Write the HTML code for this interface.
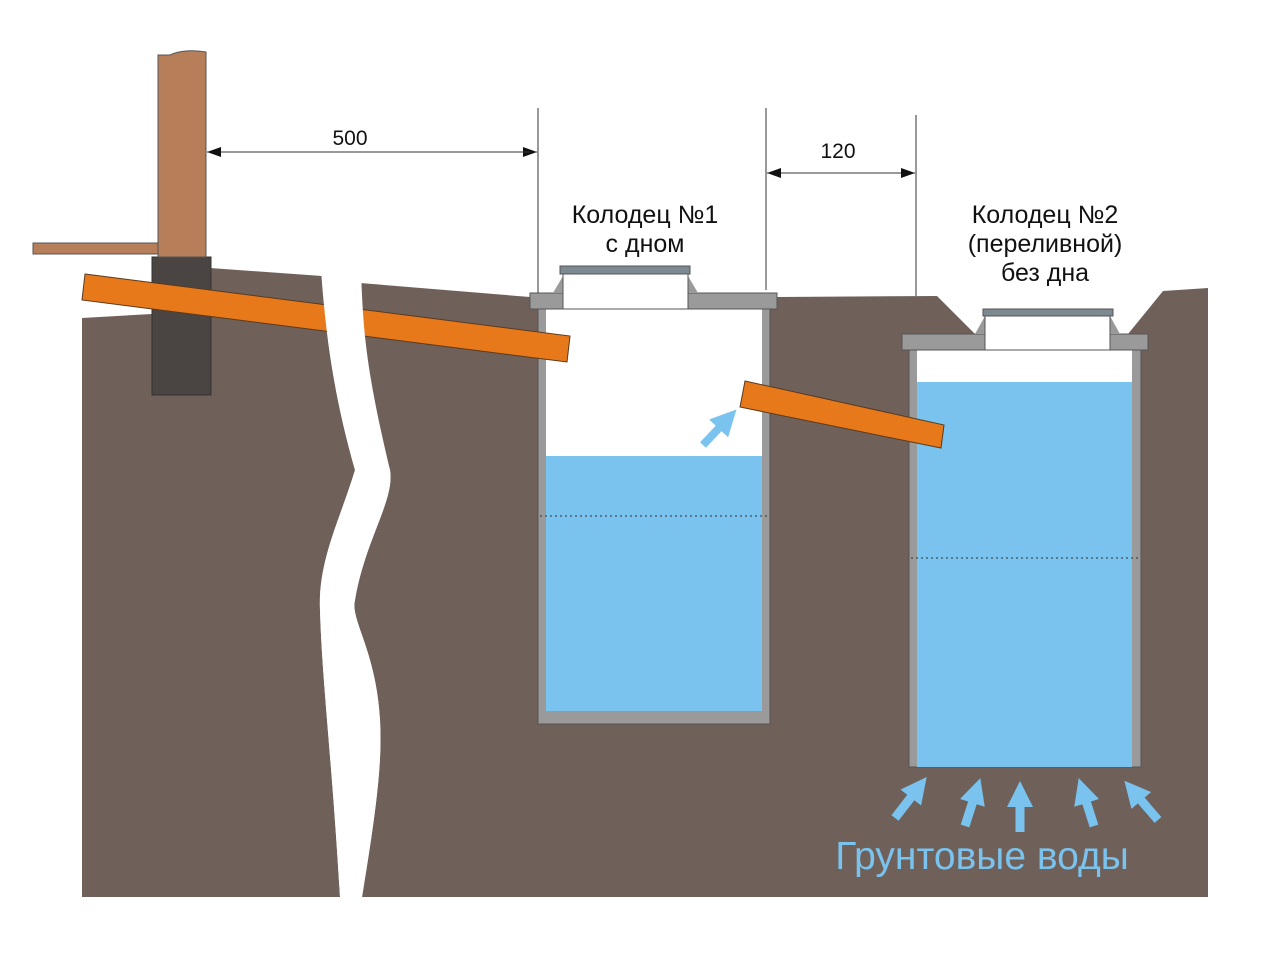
<!DOCTYPE html>
<html><head><meta charset="utf-8"><style>html,body{margin:0;padding:0;background:#fff}svg{display:block}</style></head>
<body>
<svg width="1280" height="960" viewBox="0 0 1280 960" xmlns="http://www.w3.org/2000/svg" font-family="Liberation Sans, Arial, sans-serif">
<defs>
<marker id="bh" markerUnits="userSpaceOnUse" markerWidth="26" markerHeight="26" refX="2" refY="13" orient="auto">
<path d="M0,0 L26,13 L0,26 Z" fill="#79c3ee"/>
</marker>
<marker id="da" markerUnits="userSpaceOnUse" markerWidth="14" markerHeight="10" refX="14" refY="5" orient="auto">
<path d="M0,0 L14,5 L0,10 Z" fill="#111"/>
</marker>
</defs>
<!-- soil left -->
<path d="M82,318 L152,314 L152,268 L210,268 L322,276 C326,340 335,400 355,470 C340,520 318,560 320,610 C322,680 332,760 340,897 L82,897 Z" fill="#6f6059"/>
<!-- soil right -->
<path d="M360,283 L530,297 L777,297 L937,296 L975,334 L1128,334 L1163,291 L1208,288 L1208,897 L362,897 C378,800 382,760 380,720 C376,650 350,620 355,600 C365,540 395,500 390,470 C372,420 366,360 360,283 Z" fill="#6f6059"/>
<!-- foundation -->
<rect x="152" y="257" width="59" height="138" fill="#4a4443" stroke="#333" stroke-width="1"/>
<!-- wall post -->
<path d="M158,55 L170,55 C180,50 195,50 206,52 L206,257 L158,257 Z" fill="#b77e5a" stroke="#555" stroke-width="1"/>
<rect x="33" y="243" width="125" height="11" fill="#b77e5a" stroke="#555" stroke-width="1"/>
<!-- well 1 -->
<rect x="538" y="305" width="232" height="419" fill="#9a9a9a" stroke="#555" stroke-width="1"/>
<rect x="546" y="309" width="216" height="402" fill="#fff"/>
<rect x="546" y="456" width="216" height="255" fill="#79c3ee"/>
<line x1="540" y1="516" x2="770" y2="516" stroke="#333" stroke-width="1" stroke-dasharray="2,3"/>
<rect x="530" y="293" width="247" height="16" fill="#9a9a9a" stroke="#555" stroke-width="1"/>
<path d="M563,276 L553,293 L698,293 L688,276 Z" fill="#9a9a9a"/>
<rect x="563" y="274" width="125" height="35" fill="#fff" stroke="#555" stroke-width="1"/>
<rect x="560" y="266" width="130" height="8" fill="#7d8a92" stroke="#555" stroke-width="1"/>
<!-- well 2 -->
<rect x="909" y="345" width="232" height="422" fill="#9a9a9a" stroke="#555" stroke-width="1"/>
<rect x="917" y="350" width="215" height="417" fill="#fff"/>
<rect x="917" y="382" width="215" height="385" fill="#79c3ee"/>
<line x1="911" y1="558" x2="1139" y2="558" stroke="#333" stroke-width="1" stroke-dasharray="2,3"/>
<rect x="902" y="334" width="246" height="16" fill="#9a9a9a" stroke="#555" stroke-width="1"/>
<path d="M985,316 L975,334 L1120,334 L1110,316 Z" fill="#9a9a9a"/>
<rect x="985" y="314" width="125" height="36" fill="#fff" stroke="#555" stroke-width="1"/>
<rect x="983" y="309" width="130" height="7" fill="#7d8a92" stroke="#555" stroke-width="1"/>
<!-- pipe 1 -->
<path d="M85,274 L570,336 L567,362 L82,300 Z" fill="#e8791a" stroke="#5a3a20" stroke-width="1"/>
<!-- crack over pipe -->
<path d="M321,270 L361,270 C363,330 366,370 390,470 C395,500 365,540 355,600 C350,620 376,650 380,720 C382,760 378,800 362,897 L340,897 C332,760 322,680 320,610 C318,560 340,520 355,470 C335,400 326,340 321,270 Z" fill="#fff"/>
<!-- pipe 2 -->
<path d="M745,381 L944,425 L941,448 L740,407 Z" fill="#e8791a" stroke="#5a3a20" stroke-width="1"/>
<line x1="703" y1="445" x2="720" y2="427" stroke="#79c3ee" stroke-width="8" marker-end="url(#bh)"/>
<!-- dimensions -->
<line x1="538" y1="108" x2="538" y2="293" stroke="#333" stroke-width="1"/>
<line x1="766" y1="108" x2="766" y2="290" stroke="#333" stroke-width="1"/>
<line x1="916" y1="115" x2="916" y2="296" stroke="#333" stroke-width="1"/>
<line x1="220" y1="152" x2="537" y2="152" stroke="#333" stroke-width="1" marker-end="url(#da)"/>
<line x1="530" y1="152" x2="207" y2="152" stroke="#333" stroke-width="1" marker-end="url(#da)"/>
<line x1="780" y1="173" x2="915" y2="173" stroke="#333" stroke-width="1" marker-end="url(#da)"/>
<line x1="900" y1="173" x2="767" y2="173" stroke="#333" stroke-width="1" marker-end="url(#da)"/>
<text x="350" y="145" font-size="21" text-anchor="middle" fill="#111">500</text>
<text x="838" y="158" font-size="21" text-anchor="middle" fill="#111">120</text>
<g font-size="25" fill="#111" text-anchor="middle">
<text x="645" y="223">Колодец №1</text>
<text x="645" y="252">с дном</text>
<text x="1045" y="223">Колодец №2</text>
<text x="1045" y="252">(переливной)</text>
<text x="1045" y="281">без дна</text>
</g>
<!-- ground water arrows -->
<g stroke="#79c3ee" stroke-width="9" marker-end="url(#bh)">
<line x1="895" y1="818" x2="912" y2="796"/>
<line x1="965" y1="826" x2="973" y2="801"/>
<line x1="1020" y1="832" x2="1020" y2="805"/>
<line x1="1094" y1="826" x2="1086" y2="801"/>
<line x1="1158" y1="820" x2="1140" y2="799"/>
</g>
<text x="982" y="869" font-size="39" fill="#79c3ee" text-anchor="middle">Грунтовые воды</text>
</svg>
</body></html>
